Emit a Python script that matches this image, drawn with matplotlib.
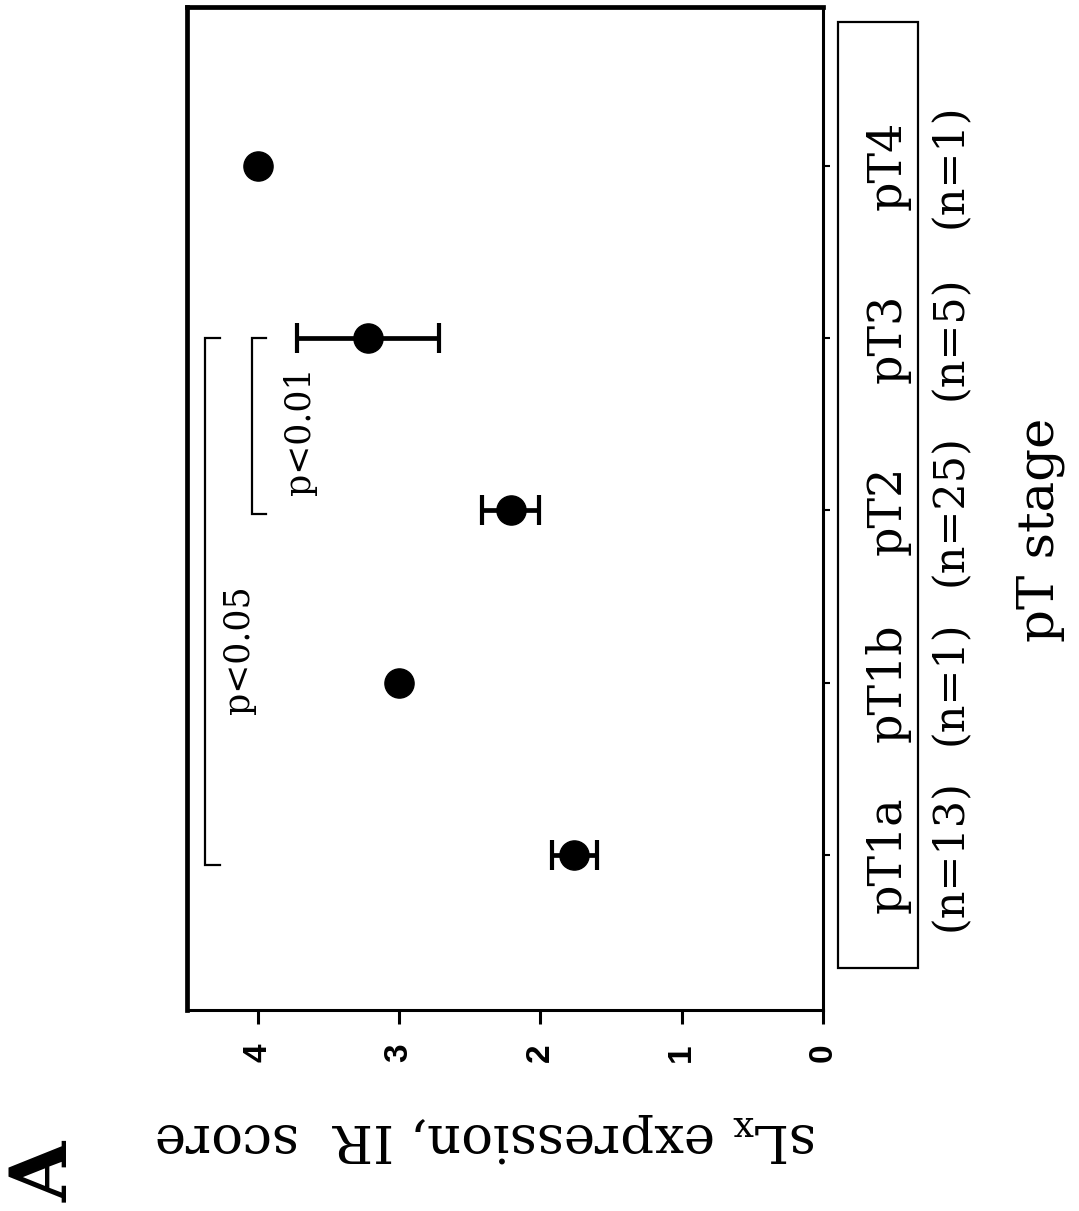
import matplotlib
matplotlib.use("Agg")
import numpy as np
import matplotlib.pyplot as plt
from matplotlib import transforms
from matplotlib.patches import Rectangle

# ---- data ----
stages = ["pT1a", "pT1b", "pT2", "pT3", "pT4"]
counts = ["(n=13)", "(n=1)", "(n=25)", "(n=5)", "(n=1)"]
scores = [1.76, 3.0, 2.21, 3.22, 4.0]
errors = [0.16, 0.0, 0.20, 0.50, 0.0]
score_ticks = [0, 1, 2, 3, 4]
score_labels = ["0", "1", "2", "3", "4"]
brackets = [  # (from stage index, to stage index, score position, label)
    (0, 3, 4.37, "p<0.05"),
    (2, 3, 4.04, "p<0.01"),
]
bracket_text_pos = [(4.13, 1.19), (3.70, 2.46)]

W, H = 1079, 1211
fig = plt.figure(figsize=(W / 100, H / 100), dpi=100)
plt.rcParams["mathtext.fontset"] = "dejavuserif"
SERIF = "DejaVu Serif"

def fx(px):
    return px / W

def fy(py):
    return 1 - py / H

ax = fig.add_axes([fx(187), fy(1010), fx(823) - fx(187), fy(7) - fy(1010)])
ax.set_xlim(4.5, 0)
ax.set_ylim(-0.9, 4.92)

ypos = np.arange(len(stages))
sc = np.array(scores)
er = np.array(errors)
mask = er > 0
ax.errorbar(sc[mask], ypos[mask], xerr=er[mask], fmt="none", ecolor="black",
            elinewidth=3.4, capsize=11, capthick=3.0, zorder=2)
ax.plot(sc, ypos, "o", color="black", markersize=21, zorder=3)

# significance brackets
tick = 0.1
for (a, b, xs, lab), (tx, ty) in zip(brackets, bracket_text_pos):
    y0 = a - 0.06 if a == 0 else a - 0.02
    y1 = b
    ax.plot([xs - tick, xs, xs, xs - tick], [y0, y0, y1, y1], color="black",
            lw=1.6, solid_joinstyle="miter", zorder=2)
    ax.text(tx, ty, lab, rotation=90, ha="center", va="center",
            fontsize=25, family=SERIF)

# spines
for side, lw in [("left", 3.4), ("top", 3.4), ("bottom", 2.2), ("right", 2.2)]:
    ax.spines[side].set_linewidth(lw)

# score axis (bottom)
ax.set_xticks(score_ticks)
ax.set_xticklabels(score_labels, rotation=90, fontsize=24, fontweight="bold",
                   family="Liberation Sans", va="top", ha="center")
ax.tick_params(axis="x", direction="out", length=10, width=2.2, pad=14)

# stage axis (right)
ax.yaxis.tick_right()
ax.set_yticks(ypos)
ax.set_yticklabels([])
ax.tick_params(axis="y", direction="out", length=5, width=1.5)

# stage labels
tr = transforms.blended_transform_factory(fig.transFigure, ax.transData)
for i, (s, n) in enumerate(zip(stages, counts)):
    ax.text(fx(888), i, s, rotation=90, ha="center", va="center",
            fontsize=33, family=SERIF, transform=tr, clip_on=False)
    ax.text(fx(950), i, n, rotation=90, ha="center", va="center",
            fontsize=31, family=SERIF, transform=tr, clip_on=False)

fig.patches.append(Rectangle((fx(838), fy(968)), fx(918) - fx(838), fy(22) - fy(968),
                             transform=fig.transFigure, fill=False, lw=1.6,
                             edgecolor="black"))

fig.text(fx(1040), fy(530), "pT stage", rotation=90, ha="center", va="center",
         fontsize=37, family=SERIF)
fig.text(fx(486), fy(1138), r"sL$_{\mathrm{x}}$ expression, IR  score", rotation=180,
         ha="center", va="center", fontsize=38, family=SERIF)
fig.text(fx(46), fy(1172), "A", rotation=90, ha="center", va="center",
         fontsize=56, fontweight="bold", family=SERIF)

fig.savefig("out.png", dpi=100)
